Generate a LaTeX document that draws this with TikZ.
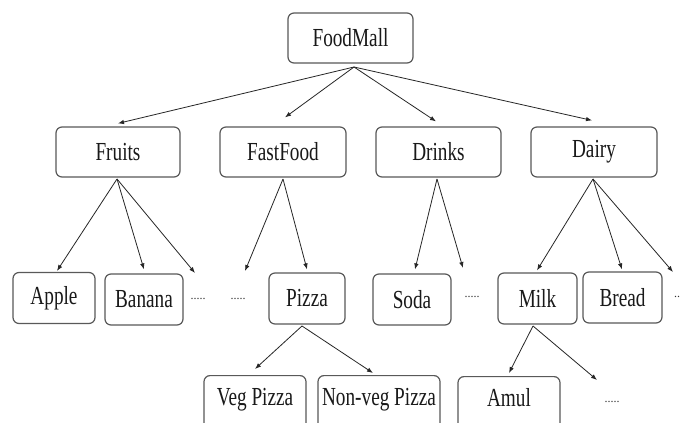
\documentclass[tikz,border=0pt]{standalone}
\usepackage{fontspec}
\setmainfont{Liberation Serif}
\newfontfamily\condfont[FakeStretch=0.74]{Liberation Serif}
\usetikzlibrary{arrows.meta}
\begin{document}
\begin{tikzpicture}[x=1pt,y=-1pt,
  box/.style={draw=black!65, line width=1.2pt, rounded corners=6pt, inner sep=0pt,
    font=\condfont\fontsize{26}{26}\selectfont, text=black!90},
  lvlone/.style={box, minimum height=50pt},
  lvltwo/.style={box, minimum height=51pt},
  lvlthree/.style={box, anchor=north, inner sep=3pt, text height=27pt, text depth=40pt},
  dots/.style={font=\fontsize{12}{12}\selectfont, inner sep=0pt, text=black!80},
  arr/.style={draw=black!85, line width=0.8pt, -{Latex[length=6pt,width=4.5pt]}}]
\useasboundingbox (0,0) rectangle (681,423);
\clip (0,0) rectangle (681,423);
\fill[white] (0,0) rectangle (681,423);

% level 0
\node[box, minimum width=125pt, minimum height=50pt] (root) at (350.5,38) {FoodMall};
% level 1
\node[lvlone, minimum width=124pt] (fruits) at (118,152) {Fruits};
\node[lvlone, minimum width=126pt] (fastfood) at (283,152) {FastFood};
\node[lvlone, minimum width=125pt] (drinks) at (438.5,152) {Drinks};
\node[lvlone, minimum width=126pt] (dairy) at (594,152) {Dairy};
% level 2
\node[lvltwo, minimum width=82pt] (apple) at (54,298) {Apple};
\node[lvltwo, minimum width=78pt] (banana) at (144,299.5) {Banana};
\node[dots] (dotsa) at (198,299) {.....};
\node[dots] (dotsb) at (238,299) {.....};
\node[lvltwo, minimum width=76pt] (pizza) at (307,298.5) {Pizza};
\node[lvltwo, minimum width=78pt] (soda) at (412,299.5) {Soda};
\node[dots] (dotsc) at (472,297) {.....};
\node[lvltwo, minimum width=79pt] (milk) at (537.5,298.5) {Milk};
\node[lvltwo, minimum width=79pt] (bread) at (622.5,297.5) {Bread};
\node[dots, anchor=west] (dotsd) at (674,297) {..};
% level 3
\node[lvlthree, minimum width=102pt] (veg) at (255,375) {Veg Pizza};
\node[lvlthree, minimum width=122pt] (nonveg) at (379,375) {Non-veg Pizza};
\node[lvlthree, minimum width=102pt] (amul) at (509,376) {Amul};
\node[dots] (dotse) at (612,402) {.....};

% branching points
\coordinate (rootb) at (354,67);
\coordinate (fruitsb) at (117,179);
\coordinate (fastfoodb) at (283,179);
\coordinate (drinksb) at (437,179);
\coordinate (dairyb) at (593,179);
\coordinate (pizzab) at (302,326);
\coordinate (milkb) at (533,326);
% free ends above the dots
\coordinate (ta) at (195,273);
\coordinate (tb) at (245,271);
\coordinate (tc) at (463,268);
\coordinate (td) at (673,272);
\coordinate (te) at (597,380);

\draw[arr] (rootb) -- ([shift={(0,-3)}]fruits.north);
\draw[arr] (rootb) -- ([shift={(2,-9)}]fastfood.north);
\draw[arr] (rootb) -- ([shift={(-2.5,-5)}]drinks.north);
\draw[arr] (rootb) -- ([shift={(-2,-6)}]dairy.north);

\draw[arr] (fruitsb) -- ([shift={(3,-1)}]apple.north);
\draw[arr] (fruitsb) -- ([shift={(0,-4)}]banana.north);
\draw[arr] (fruitsb) -- (ta);

\draw[arr] (fastfoodb) -- (tb);
\draw[arr] (fastfoodb) -- ([shift={(0,-3)}]pizza.north);

\draw[arr] (drinksb) -- ([shift={(3,-4)}]soda.north);
\draw[arr] (drinksb) -- (tc);

\draw[arr] (dairyb) -- ([shift={(-0.5,-2)}]milk.north);
\draw[arr] (dairyb) -- ([shift={(-0.5,-2)}]bread.north);
\draw[arr] (dairyb) -- (td);

\draw[arr] (pizzab) -- ([shift={(0,-6)}]veg.north);
\draw[arr] (pizzab) -- ([shift={(-6,-2)}]nonveg.north);

\draw[arr] (milkb) -- ([shift={(0,-3)}]amul.north);
\draw[arr] (milkb) -- (te);
\end{tikzpicture}
\end{document}
